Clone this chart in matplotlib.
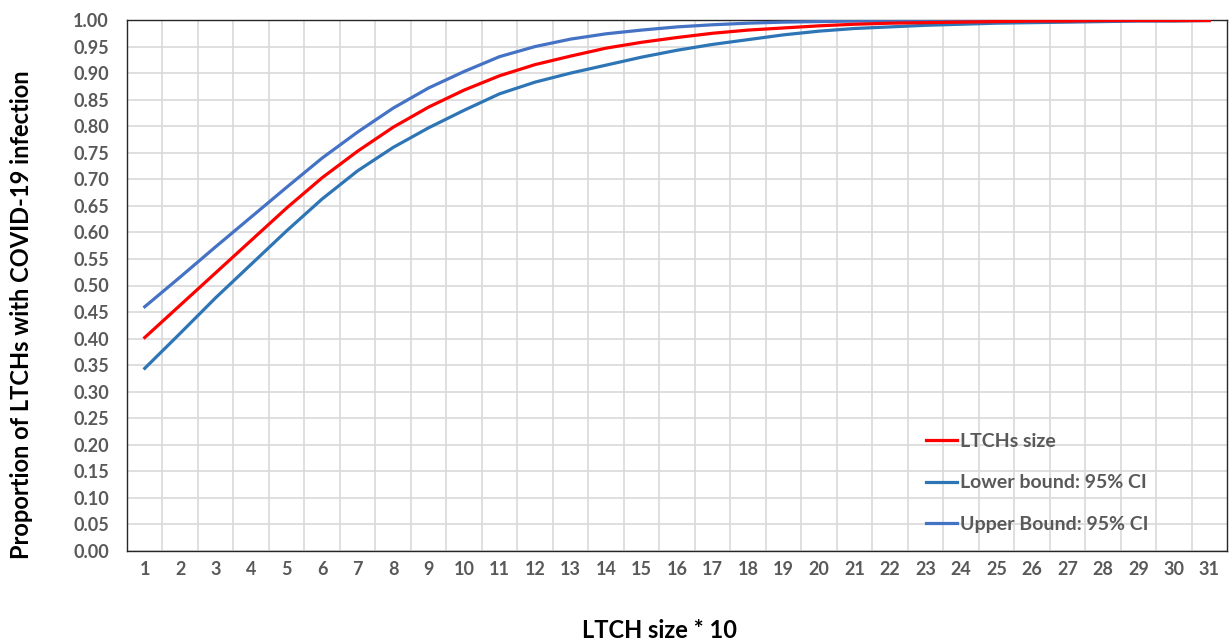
import matplotlib
matplotlib.use("Agg")
import matplotlib.pyplot as plt
import numpy as np

# data
sizes = list(range(1, 32))
ltch_size = [0.402, 0.463, 0.524, 0.585, 0.646, 0.703, 0.753, 0.798, 0.836, 0.868,
             0.895, 0.916, 0.932, 0.947, 0.958, 0.967, 0.975, 0.981, 0.985, 0.989,
             0.992, 0.994, 0.995, 0.996, 0.997, 0.998, 0.998, 0.999, 0.999, 0.999, 0.999]
lower_ci = [0.344, 0.410, 0.477, 0.540, 0.603, 0.663, 0.716, 0.760, 0.797, 0.830,
            0.861, 0.883, 0.900, 0.915, 0.930, 0.943, 0.954, 0.963, 0.972, 0.979,
            0.984, 0.987, 0.990, 0.992, 0.994, 0.995, 0.996, 0.997, 0.998, 0.998, 0.999]
upper_ci = [0.460, 0.516, 0.573, 0.629, 0.685, 0.740, 0.789, 0.834, 0.872, 0.903,
            0.931, 0.950, 0.964, 0.974, 0.981, 0.987, 0.991, 0.994, 0.996, 0.997,
            0.998, 0.998, 0.999, 0.999, 0.999, 0.999, 1.000, 1.000, 1.000, 1.000, 1.000]

plt.rcParams['font.family'] = ['Lato', 'DejaVu Sans']
plt.rcParams['font.weight'] = 'bold'

fig = plt.figure(figsize=(12.31, 6.42), dpi=100)
ax = fig.add_axes([127 / 1231, 1 - 551 / 642, 1100 / 1231, 531 / 642])

ax.plot(sizes, ltch_size, color='#FF0000', lw=2.3, label='LTCHs size', zorder=4)
ax.plot(sizes, lower_ci, color='#2E75B6', lw=2.3, label='Lower bound: 95% CI', zorder=3)
ax.plot(sizes, upper_ci, color='#4472C4', lw=2.3, label='Upper Bound: 95% CI', zorder=3)

ax.set_xlim(0.5, 31.5)
ax.set_ylim(0, 1.0)
ax.set_xticks(sizes)
ax.set_xticks(np.arange(1.5, 31, 1), minor=True)
ax.set_yticks(np.arange(0, 1.001, 0.05))
ax.set_yticklabels([f"{v:.2f}" for v in np.arange(0, 1.001, 0.05)])

ax.grid(which='minor', axis='x', color='#D9D9D9', lw=1.2)
ax.grid(which='major', axis='y', color='#D9D9D9', lw=1.2)
ax.set_axisbelow(True)

ax.tick_params(axis='both', which='both', length=0, labelsize=13, labelcolor='#595959')
ax.tick_params(axis='x', pad=7)
ax.tick_params(axis='y', pad=13)
for lbl in ax.get_xticklabels() + ax.get_yticklabels():
    lbl.set_fontweight('bold')

for sp in ax.spines.values():
    sp.set_color('#262626')
    sp.set_linewidth(1.0)

fig.text(22 / 1231, 1 - 315 / 642, 'Proportion of LTCHs with COVID-19 infection',
         rotation=90, ha='center', va='center', fontsize=17, fontweight='bold', color='black')
fig.text(660 / 1231, 1 - 630 / 642, 'LTCH size * 10', ha='center', va='center',
         fontsize=17, fontweight='bold', color='black')

leg = ax.legend(loc='center left', bbox_to_anchor=(916 / 1231, 1 - 483 / 642),
                bbox_transform=fig.transFigure, frameon=False, fontsize=14,
                handlelength=1.6, handletextpad=0.15, labelspacing=1.25, borderpad=0)
for t in leg.get_texts():
    t.set_color('#595959')
    t.set_fontweight('bold')

fig.savefig('out.png', dpi=100)
